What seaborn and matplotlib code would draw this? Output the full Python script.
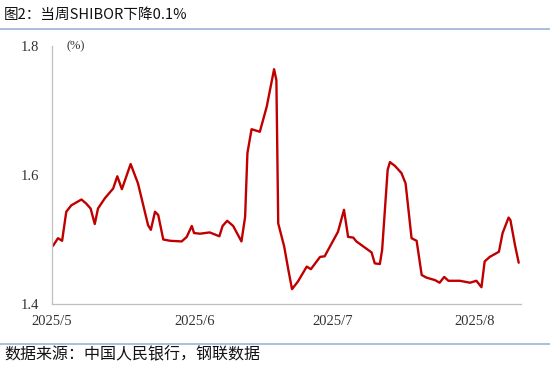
import pandas as pd
import matplotlib
matplotlib.use("Agg")
import matplotlib.pyplot as plt
import seaborn as sns

# === Data (days after 2025-05-01, SHIBOR %) ===
start = pd.Timestamp("2025-05-01")
day_offset = [
    0.2, 1.3, 2.2, 3.1, 4.2, 6.4, 7.4, 8.4, 9.3, 10.0,
    11.5, 13.3, 14.2, 15.2, 17.1, 18.7, 20.9, 21.5, 22.4, 23.1,
    24.2, 25.7, 28.2, 29.3, 30.4, 30.9, 32.2, 34.3, 36.4, 37.1,
    38.1, 39.4, 41.2, 42.0, 42.5, 43.4, 45.2, 46.7, 48.3, 48.8,
    49.2, 50.5, 51.4, 52.2, 53.5, 55.4, 56.3, 58.3, 59.3, 62.2,
    63.5, 64.4, 65.5, 66.2, 69.5, 70.2, 71.3, 71.8, 73.0, 73.5,
    74.6, 76.0, 76.9, 78.2, 79.3, 80.4, 81.4, 83.3, 84.3, 85.3,
    86.2, 88.7, 90.9, 92.3, 93.4, 94.1, 95.2, 97.2, 98.0, 99.3,
    99.7, 100.7, 101.5,
]
shibor = [
    1.490, 1.502, 1.498, 1.543, 1.553, 1.562, 1.556, 1.548, 1.524, 1.548,
    1.564, 1.579, 1.598, 1.578, 1.617, 1.587, 1.522, 1.515, 1.543, 1.538,
    1.500, 1.498, 1.497, 1.504, 1.521, 1.510, 1.509, 1.511, 1.505, 1.521,
    1.529, 1.521, 1.497, 1.535, 1.634, 1.671, 1.667, 1.706, 1.764, 1.747,
    1.525, 1.489, 1.453, 1.423, 1.435, 1.458, 1.454, 1.473, 1.474, 1.512,
    1.546, 1.504, 1.503, 1.497, 1.480, 1.463, 1.462, 1.484, 1.608, 1.620,
    1.614, 1.603, 1.587, 1.502, 1.498, 1.445, 1.441, 1.437, 1.433, 1.442,
    1.436, 1.436, 1.433, 1.436, 1.426, 1.466, 1.473, 1.481, 1.510, 1.534,
    1.530, 1.491, 1.464,
]
tick_dates = ["2025-05-01", "2025-06-01", "2025-07-01", "2025-08-01"]
tick_labels = ["2025/5", "2025/6", "2025/7", "2025/8"]
y_ticks = [1.4, 1.6, 1.8]

df = pd.DataFrame({
    "date": start + pd.to_timedelta(day_offset, unit="D"),
    "shibor": shibor,
})

# === Figure ===
sns.set_theme(style="white")
plt.rcParams["font.family"] = ["Noto Sans CJK SC", "DejaVu Sans"]

fig = plt.figure(figsize=(5.5, 3.72), dpi=100)
ax = fig.add_axes([52 / 550, (372 - 304) / 372, (521 - 52) / 550, (304 - 46) / 372])

sns.lineplot(data=df, x="date", y="shibor", ax=ax, color="#c00000",
             linewidth=1.7, solid_joinstyle="round")

ax.set_xlim(start, start + pd.Timedelta(days=102))
ax.set_ylim(1.4, 1.8)
ax.set_xlabel("")
ax.set_ylabel("")

ax.set_xticks(pd.to_datetime(tick_dates))
ax.set_xticklabels(tick_labels)
ax.set_yticks(y_ticks)
ax.set_yticklabels([f"{v:.1f}" for v in y_ticks])

serif = ["Liberation Serif", "DejaVu Serif"]
for lab in ax.get_xticklabels() + ax.get_yticklabels():
    lab.set_family(serif)
    lab.set_fontsize(10.5)
    lab.set_color("#333333")

ax.tick_params(axis="both", direction="in", length=3, width=0.8, colors="#bfbfbf",
               labelcolor="#333333")
ax.tick_params(axis="x", pad=8)
ax.tick_params(axis="y", pad=9)

for side in ["top", "right"]:
    ax.spines[side].set_visible(False)
for side in ["left", "bottom"]:
    ax.spines[side].set_color("#bfbfbf")
    ax.spines[side].set_linewidth(0.9)

ax.text(0.03, 1.0, "(%)", transform=ax.transAxes, ha="left", va="center",
        fontsize=9, family=serif, color="#333333")

# === Title / source ===
fig.text(4 / 550, 1 - 15 / 372, "图2：当周SHIBOR下降0.1%", ha="left", va="center",
         fontsize=10.5, color="#111111")
fig.add_artist(plt.Line2D([0, 1], [1 - 29 / 372, 1 - 29 / 372], color="#9db3d9", linewidth=1.2))
fig.add_artist(plt.Line2D([0, 1], [1 - 344 / 372, 1 - 344 / 372], color="#9db3d9", linewidth=1.2))
fig.text(4 / 550, 1 - 355 / 372, "数据来源：中国人民银行，钢联数据", ha="left", va="center",
         fontsize=11.5, color="#111111")

fig.savefig("out.png", dpi=100, facecolor="white")
